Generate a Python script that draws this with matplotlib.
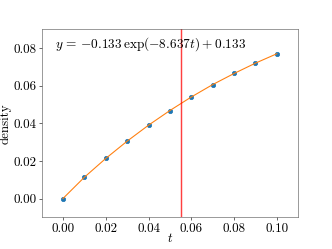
import matplotlib
matplotlib.use("Agg")
import matplotlib.pyplot as plt

t_values = [0.00, 0.01, 0.02, 0.03, 0.04, 0.05, 0.06, 0.07, 0.08, 0.09, 0.10]
density = [0.0, 0.0113, 0.0213, 0.0305, 0.0390, 0.0468, 0.0540, 0.0606, 0.0665, 0.0720, 0.0770]
vline_t = 0.055
eq_text = r"$y\,=\,{-}0.133\,\exp(-8.637t) + 0.133$"

plt.rcParams['font.family'] = 'serif'
plt.rcParams['font.serif'] = ['cmr10']
plt.rcParams['mathtext.fontset'] = 'cm'
plt.rcParams['axes.formatter.use_mathtext'] = True
plt.rcParams['font.size'] = 18
plt.rcParams['axes.unicode_minus'] = False

fig = plt.figure(figsize=(6.4, 4.8), dpi=51.9)
ax = fig.add_axes([0.125, 0.127, 0.773, 0.755])
ax.plot(t_values, density, 'o', color='#1f77b4', ms=6)
ax.plot(t_values, density, '-', color='#ff7f0e', lw=1.5)
ax.axvline(vline_t, color='red', alpha=0.75, lw=2)
ax.text(-0.0037, 0.082, eq_text, va='center', ha='left', fontsize=18.5)
ax.set_xlim(-0.01, 0.11)
ax.set_ylim(-0.01, 0.09)
ax.set_xticks([0.00, 0.02, 0.04, 0.06, 0.08, 0.10])
ax.set_xticklabels(["0.00", "0.02", "0.04", "0.06", "0.08", "0.10"])
ax.set_yticks([0.00, 0.02, 0.04, 0.06, 0.08])
ax.set_yticklabels(["0.00", "0.02", "0.04", "0.06", "0.08"])
ax.set_xlabel(r"$t$", labelpad=-3)
ax.set_ylabel("density", labelpad=3)
for s in ax.spines.values():
    s.set_color('#555555')
fig.savefig("out.png", dpi=51.9)
